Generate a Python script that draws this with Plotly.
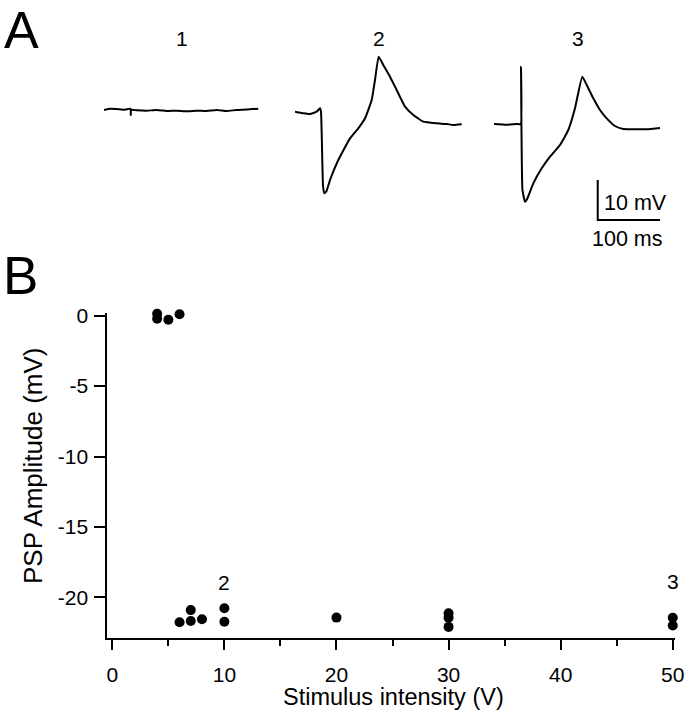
import plotly.graph_objects as go

# ---------------- Data ----------------
# Panel B: PSP amplitude vs stimulus intensity
stim_v = [4, 4, 5, 6, 6, 7, 7, 8, 10, 10, 20, 30, 30, 30, 50, 50]
psp_mv = [0.13, -0.22, -0.29, 0.10, -21.76, -20.90, -21.67, -21.55, -20.77, -21.72,
          -21.43, -21.13, -21.44, -22.09, -21.44, -21.99]
group_labels = ["1", "2", "3"]
group_label_x = [4, 10, 50]
group_label_y = [1.95, -18.95, -18.85]

x_ticks = [0, 10, 20, 30, 40, 50]
y_ticks = [0, -5, -10, -15, -20]
x_title = "Stimulus intensity (V)"
y_title = "PSP Amplitude (mV)"

# Panel A: membrane potential traces (time in ms, voltage in mV)
trace1_t = [0, 9.6, 20.3, 33.7, 42.5, 43.0, 43.6, 52.5, 68.5, 84.6, 100.6, 116.6, 132.7,
            148.7, 164.7, 180.8, 196.8, 212.9, 228.9, 247.6]
trace1_v = [3.50, 3.83, 3.75, 3.58, 3.83, 2.25, 3.55, 3.42, 3.33, 3.50, 3.25, 3.33, 3.17,
            3.33, 3.25, 3.50, 3.25, 3.50, 3.60, 3.83]

trace2_t = [0, 13.3, 24.1, 34.8, 40.1, 41.7, 45.0, 47.0, 50.5, 56.2, 69.5, 88.3, 101.6,
            112.4, 123.1, 128.4, 134.3, 141.7, 152.5, 163.2, 176.6, 189.9, 206.0, 227.5,
            243.5, 254.1, 267.6]
trace2_v = [3.08, 2.68, 2.50, 3.08, 3.93, 3.08, -15.5, -17.33, -16.8, -14.0, -9.0, -3.58,
            -1.08, 1.43, 6.0, 11.0, 16.83, 14.75, 11.83, 8.5, 4.33, 2.25, 0.58, 0.17,
            0.0, -0.25, -0.08]

trace3_t = [0, 20.4, 36.4, 42.9, 43.3, 45.7, 49.8, 53.0, 63.1, 76.6, 89.9, 105.9, 119.3,
            130.0, 141.7, 148.8, 159.4, 170.1, 180.9, 194.2, 207.5, 229.0, 245.1, 255.7,
            266.5]
trace3_v = [0.0, -0.17, 0.0, 0.0, 14.33, -16.5, -19.42, -18.8, -14.83, -11.08, -8.17,
            -5.25, -1.5, 3.92, 11.83, 9.75, 6.42, 3.5, 1.42, -0.5, -1.25, -1.33, -1.33,
            -1.17, -1.0]

trace_labels = ["1", "2", "3"]
scale_ms = 100
scale_mv = 10

# ---------------- Layout helpers ----------------
W, H = 691, 719
FONT = "Liberation Sans, Arial, Helvetica, sans-serif"


def fx(px):
    return px / W


def fy(py):
    return 1 - py / H


fig = go.Figure()

# Panel B scatter
fig.add_trace(go.Scatter(
    x=stim_v, y=psp_mv, mode="markers",
    marker=dict(size=10, color="black"),
    cliponaxis=False, showlegend=False, xaxis="x", yaxis="y"))

# Panel A traces
for t, v, ax in [(trace1_t, trace1_v, "x2"), (trace2_t, trace2_v, "x3"),
                 (trace3_t, trace3_v, "x4")]:
    fig.add_trace(go.Scatter(
        x=t, y=v, mode="lines",
        line=dict(color="black", width=2, shape="spline", smoothing=0.4),
        cliponaxis=False, showlegend=False, xaxis=ax, yaxis="y2"))

# Scale bar (in trace-3 axes)
sb_t0, sb_v0 = 166.5, -24.0
fig.add_trace(go.Scatter(
    x=[sb_t0, sb_t0, sb_t0 + scale_ms], y=[sb_v0 + scale_mv, sb_v0, sb_v0],
    mode="lines", line=dict(color="black", width=2), cliponaxis=False,
    showlegend=False, xaxis="x4", yaxis="y2"))

ms_per_px = 1 / 0.623
trace_w_px = 180
hidden = dict(visible=False, range=[0, trace_w_px * ms_per_px], fixedrange=True)

fig.update_layout(
    width=W, height=H,
    margin=dict(l=0, r=0, t=0, b=0),
    paper_bgcolor="white", plot_bgcolor="white",
    font=dict(family=FONT, color="black", size=20),
    xaxis=dict(
        domain=[fx(107.3), fx(675)], range=[-0.446, 50.2],
        tickmode="array", tickvals=x_ticks, ticktext=[str(v) for v in x_ticks],
        ticks="outside", ticklen=10, tickwidth=2, tickcolor="black",
        showline=True, linewidth=2, linecolor="black", showgrid=False, zeroline=False,
        minor=dict(dtick=5, tick0=0, ticks="outside", ticklen=6, tickwidth=2,
                   tickcolor="black", showgrid=False),
        tickfont=dict(size=21), ticklabelstandoff=6,
        automargin=False, anchor="y", fixedrange=True),
    yaxis=dict(
        domain=[fy(638.3), fy(313)], range=[-22.9, 0.19],
        tickmode="array", tickvals=y_ticks, ticktext=[str(v) for v in y_ticks],
        ticks="outside", ticklen=11, tickwidth=2, tickcolor="black",
        showline=True, linewidth=2, linecolor="black", showgrid=False, zeroline=False,
        tickfont=dict(size=21), ticklabelstandoff=2,
        automargin=False, anchor="x", fixedrange=True),
    xaxis2=dict(domain=[fx(104), fx(104 + trace_w_px)], anchor="y2", **hidden),
    xaxis3=dict(domain=[fx(295), fx(295 + trace_w_px)], anchor="y2", **hidden),
    xaxis4=dict(domain=[fx(494), fx(494 + trace_w_px)], anchor="y2", **hidden),
    yaxis2=dict(domain=[fy(240), fy(40)], range=[-29, 21], visible=False,
                anchor="x2", fixedrange=True),
)

annotations = []
# Axis titles
annotations.append(dict(text=x_title, x=fx(393), y=fy(697), xref="paper", yref="paper",
                        xanchor="center", yanchor="middle", showarrow=False,
                        font=dict(size=23.5)))
annotations.append(dict(text=y_title, x=fx(33), y=fy(466), xref="paper", yref="paper",
                        xanchor="center", yanchor="middle", showarrow=False,
                        textangle=-90, font=dict(size=26)))
# Panel letters
annotations.append(dict(text="A", x=fx(2), y=fy(30.5), xref="paper", yref="paper",
                        xanchor="left", yanchor="middle", showarrow=False,
                        font=dict(size=52)))
annotations.append(dict(text="B", x=fx(1), y=fy(275), xref="paper", yref="paper",
                        xanchor="left", yanchor="middle", showarrow=False,
                        font=dict(size=53)))
# Trace labels in panel A
for lab, xc in zip(trace_labels, [181.7, 378.5, 578]):
    annotations.append(dict(text=lab, x=fx(xc), y=fy(39), xref="paper", yref="paper",
                            xanchor="center", yanchor="middle", showarrow=False,
                            font=dict(size=21)))
# Group labels in panel B
for lab, gx, gy in zip(group_labels, group_label_x, group_label_y):
    annotations.append(dict(text=lab, x=gx, y=gy, xref="x", yref="y",
                            xanchor="center", yanchor="middle", showarrow=False,
                            font=dict(size=21)))
# Scale bar labels
annotations.append(dict(text=f"{scale_mv} mV", x=sb_t0 + 7, y=sb_v0 + 4.3, xref="x4",
                        yref="y2", xanchor="left", yanchor="middle", showarrow=False,
                        font=dict(size=21.5)))
annotations.append(dict(text=f"{scale_ms} ms", x=sb_t0 + 48, y=sb_v0 - 4.8, xref="x4",
                        yref="y2", xanchor="center", yanchor="middle", showarrow=False,
                        font=dict(size=21.5)))
fig.update_layout(annotations=annotations)

fig.write_html("out.html",
               config={"displayModeBar": False, "staticPlot": True},
               post_script="document.body.style.margin='0px';"
                           "document.body.style.overflow='hidden';")
